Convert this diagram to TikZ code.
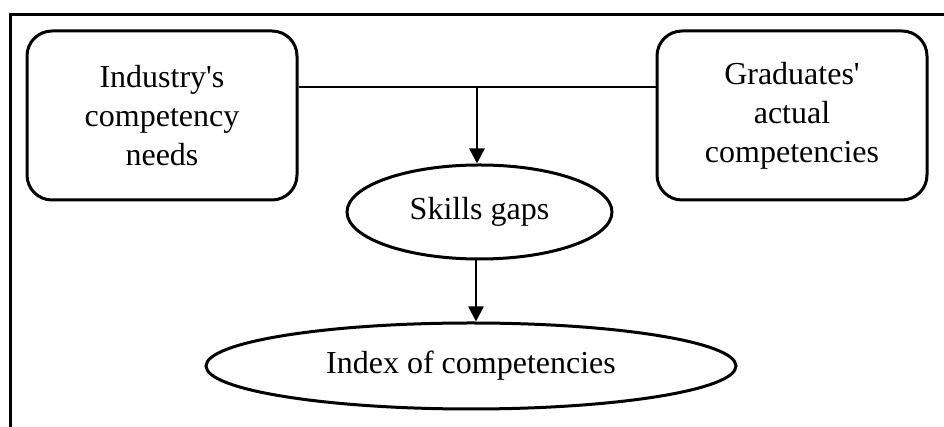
\documentclass[tikz,border=0pt]{standalone}
\usepackage{fontspec}
\setmainfont{Liberation Serif}
\usepackage{tikz}
\usetikzlibrary{shapes, arrows.meta, positioning, calc}

\tikzset{
  box/.style={draw, line width=3pt, rounded corners=25pt, minimum width=270pt, minimum height=169pt, align=center, font=\fontsize{32}{39}\selectfont},
  oval/.style={draw, ellipse, line width=3pt, inner sep=0pt, font=\fontsize{32}{39}\selectfont},
  arr/.style={line width=2.5pt, -{Triangle[length=15pt, width=15pt]}}
}

\begin{document}
\begin{tikzpicture}[x=1pt, y=1pt]
  \useasboundingbox (0,0) rectangle (944,427);
  % frame (top and left edges only)
  \draw[line width=3pt] (10,0) -- (10,412) -- (950,412);

  \node[box] (industry) at (162,311.5) {Industry\textquotesingle s\\competency\\needs};
  \node[box] (graduates) at (792,311.5) {Graduates\textquotesingle\\actual\\competencies};
  \node[oval, minimum width=265pt, minimum height=94pt] (gaps) at (479.5,215) {Skills gaps};
  \node[oval, minimum width=530pt, minimum height=86pt] (index) at (471,61) {Index of competencies};

  \coordinate (join) at (477,340);
  \coordinate (drop) at (476,0);
  \draw[line width=2.5pt] (industry.east |- join) -- (graduates.west |- join);
  \draw[arr] (join) -- (join |- gaps.north);
  \draw[arr] (gaps.south -| drop) -- (drop |- index.north);
\end{tikzpicture}
\end{document}
